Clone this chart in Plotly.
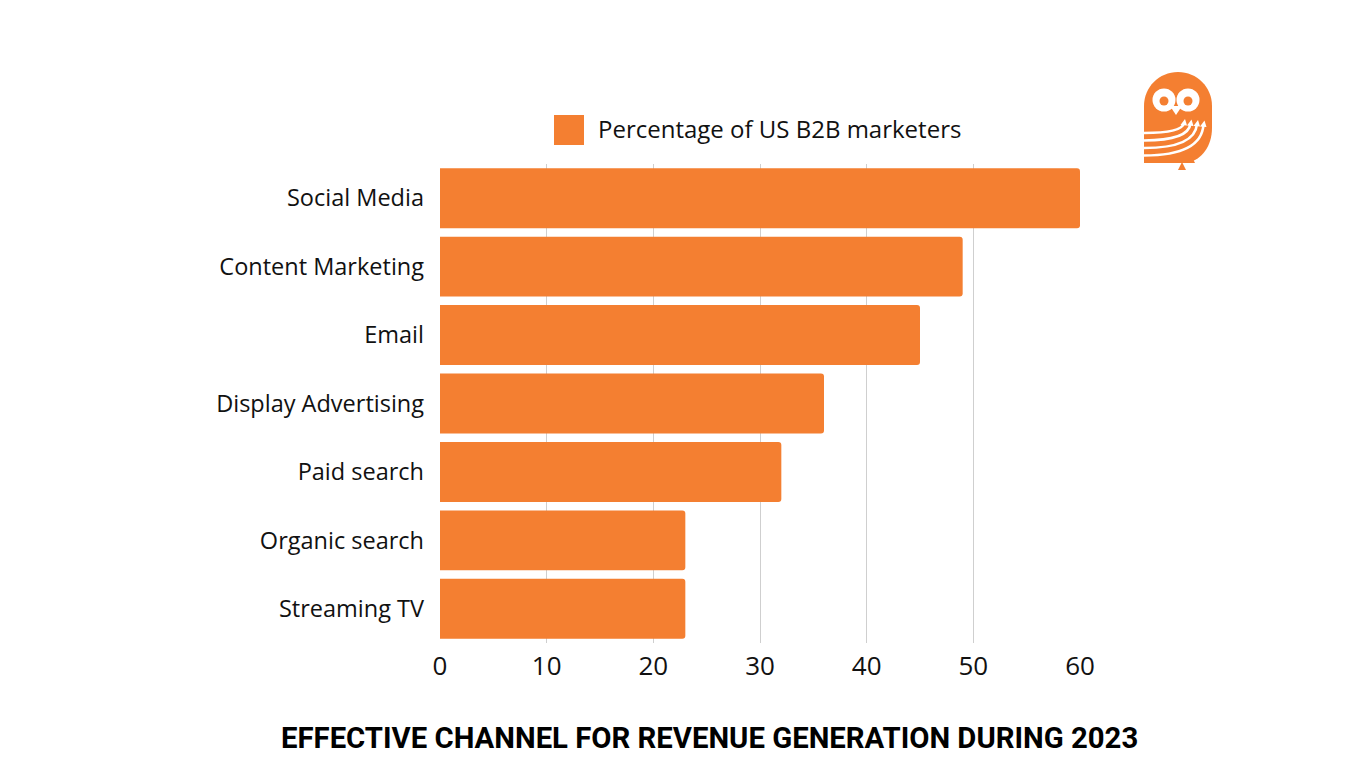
import plotly.graph_objects as go

categories = ["Social Media", "Content Marketing", "Email", "Display Advertising",
              "Paid search", "Organic search", "Streaming TV"]
values = [60, 49, 45, 36, 32, 23, 23]
series_name = "Percentage of US B2B marketers"
tick_vals = [0, 10, 20, 30, 40, 50, 60]
title_text = "EFFECTIVE CHANNEL FOR REVENUE GENERATION DURING 2023"

ORANGE = "#F47F31"
OFF = 8  # page body margin
W, H = 1366 - 2 * OFF, 768 - 2 * OFF
L, R, T, B = 440, 1080, 164, 643  # plot area in screen pixels


def px(x):
    return (x - L) / (R - L)


def py(y):
    return (B - y) / (B - T)


def P(x, y):
    return f"{px(x):.5f},{py(y):.5f}"


fig = go.Figure()
fig.add_trace(go.Bar(
    y=categories, x=values, orientation="h", name=series_name,
    marker=dict(color=ORANGE, cornerradius=3, line=dict(width=0)),
    showlegend=False,
))

shapes = []
# legend swatch
shapes.append(dict(type="rect", xref="paper", yref="paper",
                   x0=px(554), x1=px(584), y0=py(145), y1=py(115),
                   fillcolor=ORANGE, line=dict(width=0)))

# owl logo
body = ("M " + P(1144, 163) + " L " + P(1144, 106) +
        " C " + P(1144, 87) + " " + P(1159, 72) + " " + P(1178, 72) +
        " C " + P(1197, 72) + " " + P(1212, 87) + " " + P(1212, 106) +
        " L " + P(1212, 128) +
        " C " + P(1212, 146) + " " + P(1202, 159) + " " + P(1188, 163) + " Z")
shapes.append(dict(type="path", xref="paper", yref="paper", path=body,
                   fillcolor=ORANGE, line=dict(width=0)))
for cx in (1164, 1188):
    shapes.append(dict(type="circle", xref="paper", yref="paper",
                       x0=px(cx - 11.5), x1=px(cx + 11.5), y0=py(100 + 11.5), y1=py(100 - 11.5),
                       fillcolor="white", line=dict(width=0)))
beak = "M " + P(1170, 106) + " L " + P(1182, 106) + " L " + P(1176, 115) + " Z"
shapes.append(dict(type="path", xref="paper", yref="paper", path=beak,
                   fillcolor="white", line=dict(width=0)))
for cx in (1164, 1188):
    shapes.append(dict(type="circle", xref="paper", yref="paper",
                       x0=px(cx - 4.5), x1=px(cx + 4.5), y0=py(101 + 4.5), y1=py(101 - 4.5),
                       fillcolor=ORANGE, line=dict(width=0)))
for i in range(4):
    y0 = 133 + 7.5 * i
    xe = 1184 + 6.5 * i
    ye = 123 + 0.5 * i
    path = ("M " + P(1144, y0) + " Q " + P(xe - 2, y0) + " " + P(xe, ye))
    shapes.append(dict(type="path", xref="paper", yref="paper", path=path,
                       line=dict(color="white", width=2.6)))
    tip = "M " + P(xe - 3.5, ye + 2) + " L " + P(xe + 1, ye - 4) + " L " + P(xe + 3, ye + 2.5) + " Z"
    shapes.append(dict(type="path", xref="paper", yref="paper", path=tip,
                       fillcolor="white", line=dict(width=0)))
for (fx, fy) in ((1182, 170), (1191, 163)):
    foot = "M " + P(fx - 4, fy) + " L " + P(fx + 4, fy) + " L " + P(fx, fy - 8) + " Z"
    shapes.append(dict(type="path", xref="paper", yref="paper", path=foot,
                       fillcolor=ORANGE, line=dict(width=0)))

annotations = [
    dict(text=series_name, xref="paper", yref="paper", x=px(596), y=py(129),
         xanchor="left", yanchor="middle", showarrow=False,
         font=dict(family="Open Sans", size=24, color="#111111")),
    dict(text="<b>" + title_text + "</b>", xref="paper", yref="paper", x=px(709), y=py(738),
         xanchor="center", yanchor="middle", showarrow=False,
         font=dict(family="Roboto", size=29.3, color="#000000", weight=900)),
]

fig.update_layout(
    width=W, height=H,
    margin=dict(l=L - OFF, r=W - (R - OFF), t=T - OFF, b=H - (B - OFF), pad=0),
    paper_bgcolor="white", plot_bgcolor="white",
    bargap=0.124,
    shapes=shapes, annotations=annotations,
    xaxis=dict(range=[0, 60], tickvals=tick_vals, showgrid=True, gridcolor="#cfcfcf",
               gridwidth=1, zeroline=False, showline=False, ticks="",
               ticklabelstandoff=5,
               tickfont=dict(family="Open Sans", size=26, color="#111111"), fixedrange=True),
    yaxis=dict(autorange="reversed", showgrid=False, zeroline=False, showline=False,
               ticks="", ticklabelstandoff=15,
               tickfont=dict(family="Open Sans", size=23.5, color="#111111"), fixedrange=True),
    showlegend=False,
)

fig.write_html("out.html", config={"displayModeBar": False})
